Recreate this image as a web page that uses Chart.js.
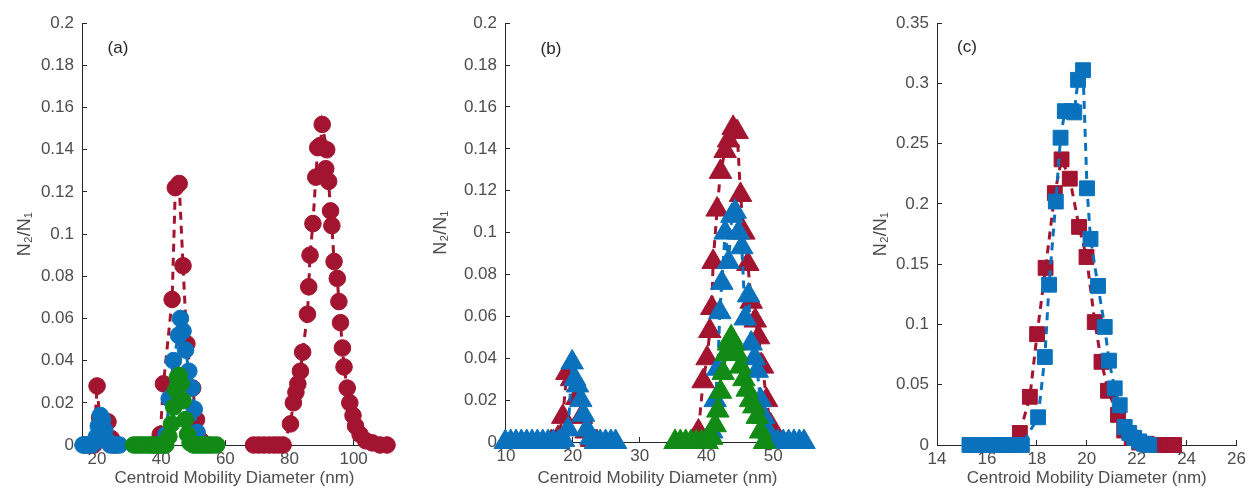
<!DOCTYPE html>
<html>
<head>
<meta charset="utf-8">
<script src="https://cdn.jsdelivr.net/npm/chart.js@4.4.0/dist/chart.umd.min.js"></script>
<style>
    body { margin: 0; background: #fff; width: 1255px; height: 499px; position: relative; overflow: hidden; }
    .panel { position: absolute; top: 0; height: 499px; }
</style>
</head>
<body>
<div class="panel" style="left:0;width:416px"><canvas id="chart-a"></canvas></div>
<div class="panel" style="left:416px;width:440px"><canvas id="chart-b"></canvas></div>
<div class="panel" style="left:856px;width:399px"><canvas id="chart-c"></canvas></div>
<script>
// ---- panel (a): circles ----
const aRed20X = [16, 17, 18, 19, 20, 20.8, 22, 23.4, 24.5, 25.5];
const aRed20Y = [0, 0, 0, 0, 0.028, 0.013, 0.009, 0.011, 0.003, 0];
const aRed45X = [37.5, 39.7, 40.7, 43.4, 44.4, 45.6, 46.8, 48, 49.8, 51, 52.5];
const aRed45Y = [0, 0.005, 0.029, 0.069, 0.122, 0.124, 0.085, 0.048, 0.027, 0.012, 0.002];
const aRed90X = [68.8, 70.4, 72, 73.6, 75.2, 76.6, 78, 80.3, 81.2, 82, 82.6, 83.4, 84.1, 85.6, 86, 86.4, 87.3, 88.2, 88.8, 89.6, 90.2, 91.6, 91.3, 92.2, 92.8, 93.2, 93.9, 94.9, 95.4, 95.9, 96.5, 97, 98, 98.8, 99.8, 100.6, 102, 103.8, 105.8, 108.2, 110.4];
const aRed90Y = [0, 0, 0, 0, 0, 0, 0, 0.01, 0.02, 0.025, 0.029, 0.035, 0.044, 0.062, 0.075, 0.09, 0.105, 0.127, 0.141, 0.142, 0.152, 0.14, 0.131, 0.125, 0.111, 0.104, 0.087, 0.079, 0.068, 0.058, 0.046, 0.037, 0.027, 0.02, 0.014, 0.009, 0.005, 0.002, 0.001, 0, 0];
const aBlue20X = [15.6, 16.5, 17.4, 18.3, 19.1, 19.8, 20.4, 21, 21.7, 22.4, 23.2, 24.1, 25, 26, 27];
const aBlue20Y = [0, 0, 0, 0, 0.001, 0.004, 0.009, 0.014, 0.012, 0.007, 0.002, 0, 0, 0, 0];
const aBlue45X = [40, 41.5, 42.5, 43.8, 45.4, 46, 46.8, 47.6, 48.6, 49.6, 50.3, 51.2, 52.2];
const aBlue45Y = [0, 0.005, 0.022, 0.04, 0.052, 0.06, 0.054, 0.045, 0.035, 0.027, 0.017, 0.006, 0.001];
const aGreenX = [31.4, 32.4, 33.4, 34.4, 35.4, 36.4, 37.4, 38.4, 39.4, 40.4, 41.4, 42.4, 43.2, 43.9, 44.5, 45, 45.6, 46.2, 46.8, 47.5, 48.2, 49, 50, 51, 52, 53, 54, 55, 56, 57.3];
const aGreenY = [0, 0, 0, 0, 0, 0, 0, 0, 0, 0, 0, 0.004, 0.01, 0.018, 0.026, 0.032, 0.033, 0.029, 0.021, 0.012, 0.005, 0.001, 0, 0, 0, 0, 0, 0, 0, 0];
const aXTicks = [20, 40, 60, 80, 100];
const aYTicks = [0, 0.02, 0.04, 0.06, 0.08, 0.1, 0.12, 0.14, 0.16, 0.18, 0.2];

// ---- panel (b): triangles ----
const bRed20X = [16.8, 17.8, 18.5, 19.1, 19.8, 20.6, 21.3, 22, 22.8, 23.6];
const bRed20Y = [0, 0.002, 0.012, 0.033, 0.03, 0.021, 0.012, 0.005, 0.001, 0];
const bRed44X = [38, 38.8, 39.5, 40.1, 40.5, 40.8, 41, 41.6, 42.1, 42.8, 43.3, 44, 44.6, 45.1, 45.6, 46.2, 46.7, 47.3, 47.8, 48.4, 49, 49.6, 50.2, 51];
const bRed44Y = [0, 0.005, 0.029, 0.04, 0.053, 0.064, 0.086, 0.111, 0.129, 0.139, 0.144, 0.15, 0.148, 0.118, 0.1, 0.085, 0.067, 0.058, 0.05, 0.036, 0.02, 0.008, 0.002, 0];
const bBlue20X = [9.9, 10.7, 11.5, 12.3, 13.1, 13.9, 14.7, 15.5, 16.3, 17.1, 17.9, 18.6, 19.3, 19.9, 20.3, 20.7, 21.2, 21.6, 22.1, 22.7, 23.4, 24.1, 24.9, 25.7, 26.4];
const bBlue20Y = [0, 0, 0, 0, 0, 0, 0, 0, 0, 0, 0, 0.001, 0.006, 0.038, 0.03, 0.027, 0.02, 0.013, 0.006, 0.002, 0, 0, 0, 0, 0];
const bBlue44X = [40.8, 41.3, 41.7, 42, 42.3, 42.8, 43.3, 43.8, 44.3, 44.8, 45.3, 45.8, 46.3, 46.7, 47.2, 47.6, 48.1, 48.6, 49.2, 49.9, 50.7, 51.5, 52.3, 53.1, 53.9, 54.6];
const bBlue44Y = [0.005, 0.02, 0.035, 0.062, 0.076, 0.1, 0.086, 0.108, 0.11, 0.1, 0.093, 0.059, 0.07, 0.047, 0.04, 0.034, 0.02, 0.012, 0.005, 0.001, 0, 0, 0, 0, 0, 0];
const bGreenX = [35.3, 36.1, 36.9, 37.7, 38.5, 39.3, 40.1, 40.8, 41.3, 41.7, 42.1, 42.5, 42.9, 43.3, 43.7, 44.1, 44.6, 45.1, 45.6, 46.1, 46.6, 47.1, 47.6, 48.1, 48.7];
const bGreenY = [0, 0, 0, 0, 0, 0, 0, 0.002, 0.008, 0.015, 0.024, 0.033, 0.042, 0.047, 0.05, 0.047, 0.042, 0.036, 0.03, 0.025, 0.02, 0.017, 0.012, 0.005, 0];
const bXTicks = [10, 20, 30, 40, 50];
const bYTicks = aYTicks;

// ---- panel (c): squares ----
const cRedX = [17.32, 17.72, 18.01, 18.35, 18.72, 18.99, 19.32, 19.69, 19.99, 20.32, 20.59, 20.85, 21.25, 21.5, 21.8, 22.1, 22.4, 23.08, 23.3, 23.5];
const cRedY = [0.01, 0.04, 0.092, 0.147, 0.209, 0.237, 0.221, 0.181, 0.156, 0.102, 0.069, 0.045, 0.025, 0.012, 0.006, 0.002, 0.001, 0, 0, 0];
const cBlueX = [15.3, 15.6, 15.9, 16.2, 16.5, 16.8, 17.1, 17.4, 18.05, 18.32, 18.49, 18.76, 18.95, 19.12, 19.39, 19.5, 19.65, 19.85, 20.01, 20.15, 20.45, 20.72, 20.89, 21.12, 21.32, 21.52, 21.7, 21.9, 22.1, 22.3, 22.5];
const cBlueY = [0, 0, 0, 0, 0, 0, 0, 0, 0.023, 0.073, 0.133, 0.202, 0.255, 0.277, 0.277, 0.276, 0.303, 0.311, 0.213, 0.171, 0.132, 0.098, 0.07, 0.047, 0.033, 0.015, 0.01, 0.006, 0.003, 0.001, 0];
const cXTicks = [14, 16, 18, 20, 22, 24, 26];
const cYTicks = [0, 0.05, 0.1, 0.15, 0.2, 0.25, 0.3, 0.35];

const RED = '#a2142f';
const BLUE = '#0a72bd';
const GREEN = '#128a16';
const TEXT = '#4d4d4d';
const AXIS = '#262626';
const FONT = '"Liberation Sans", Arial, sans-serif';

Chart.defaults.font.family = FONT;

function pts(xs, ys) {
    return xs.map((x, i) => ({ x: x, y: ys[i] }));
}

function series(xs, ys, color, style, radius, order) {
    return {
        data: pts(xs, ys),
        borderColor: color,
        backgroundColor: color,
        borderWidth: 3,
        borderDash: [8, 6],
        pointStyle: style,
        pointRadius: radius,
        pointBorderWidth: 1,
        pointBackgroundColor: color,
        pointBorderColor: color,
        tension: 0,
        clip: false,
        order: order
    };
}

function fmt(v) {
    return String(Number(v.toFixed(3)));
}

// draws the (a)/(b)/(c) tag inside the plot area
const panelTag = {
    id: 'panelTag',
    afterDraw(chart, args, opts) {
        const { ctx, chartArea } = chart;
        ctx.save();
        ctx.font = '17px ' + FONT;
        ctx.fillStyle = AXIS;
        ctx.textAlign = 'center';
        ctx.textBaseline = 'middle';
        ctx.fillText(opts.text, chartArea.left + opts.dx, chartArea.top + opts.dy);
        ctx.restore();
    }
};

function makePanel(id, datasets, p) {
    new Chart(document.getElementById(id), {
        type: 'line',
        data: { datasets: datasets },
        plugins: [panelTag],
        options: {
            responsive: true,
            maintainAspectRatio: false,
            animation: false,
            layout: { padding: { top: p.top, right: p.right, left: 0, bottom: 0 } },
            plugins: {
                legend: { display: false },
                tooltip: { enabled: false },
                panelTag: { text: p.tag, dx: p.tagDx, dy: p.tagDy }
            },
            scales: {
                x: {
                    type: 'linear',
                    min: p.xMin,
                    max: p.xMax,
                    afterBuildTicks: axis => { axis.ticks = p.xTicks.map(v => ({ value: v })); },
                    afterFit: axis => { axis.height = p.xHeight; },
                    grid: { drawOnChartArea: false, tickLength: -5, color: AXIS },
                    border: { color: AXIS, width: 1 },
                    ticks: { padding: 9, color: TEXT, font: { size: 17 }, maxRotation: 0, autoSkip: false, callback: v => fmt(v) },
                    title: { display: true, text: 'Centroid Mobility Diameter (nm)', color: TEXT, font: { size: 17 }, padding: { top: 0, bottom: 10 } }
                },
                y: {
                    type: 'linear',
                    min: 0,
                    max: p.yMax,
                    afterBuildTicks: axis => { axis.ticks = p.yTicks.map(v => ({ value: v })); },
                    afterFit: axis => { axis.width = p.yWidth; },
                    grid: { drawOnChartArea: false, tickLength: -5, color: AXIS },
                    border: { color: AXIS, width: 1 },
                    ticks: { padding: 13, color: TEXT, font: { size: 17 }, autoSkip: false, callback: v => fmt(v) },
                    title: { display: true, text: 'N₂/N₁', color: TEXT, font: { size: 18 }, padding: { top: 14, bottom: 0 } }
                }
            }
        }
    });
}

makePanel('chart-a', [
    series(aRed20X, aRed20Y, RED, 'circle', 8.3, 3),
    series(aRed45X, aRed45Y, RED, 'circle', 8.3, 3),
    series(aRed90X, aRed90Y, RED, 'circle', 8.3, 3),
    series(aBlue20X, aBlue20Y, BLUE, 'circle', 8.3, 2),
    series(aBlue45X, aBlue45Y, BLUE, 'circle', 8.3, 2),
    series(aGreenX, aGreenY, GREEN, 'circle', 8.3, 1)
], { top: 20, right: 29, yWidth: 82, xHeight: 54, xMin: 15.3, xMax: 110.4, yMax: 0.2,
     xTicks: aXTicks, yTicks: aYTicks, tag: '(a)', tagDx: 36, tagDy: 25 });

makePanel('chart-b', [
    series(bRed20X, bRed20Y, RED, 'triangle', 13, 3),
    series(bRed44X, bRed44Y, RED, 'triangle', 13, 3),
    series(bBlue20X, bBlue20Y, BLUE, 'triangle', 13, 2),
    series(bBlue44X, bBlue44Y, BLUE, 'triangle', 13, 2),
    series(bGreenX, bGreenY, GREEN, 'triangle', 13, 1)
], { top: 17, right: 46, yWidth: 89, xHeight: 57, xMin: 9.85, xMax: 55.5, yMax: 0.2,
     xTicks: bXTicks, yTicks: bYTicks, tag: '(b)', tagDx: 46, tagDy: 26 });

makePanel('chart-c', [
    series(cRedX, cRedY, RED, 'rect', 10.5, 2),
    series(cBlueX, cBlueY, BLUE, 'rect', 10.5, 1)
], { top: 21, right: 18, yWidth: 81, xHeight: 54, xMin: 14, xMax: 26, yMax: 0.35,
     xTicks: cXTicks, yTicks: cYTicks, tag: '(c)', tagDx: 30, tagDy: 24 });
</script>
</body>
</html>
